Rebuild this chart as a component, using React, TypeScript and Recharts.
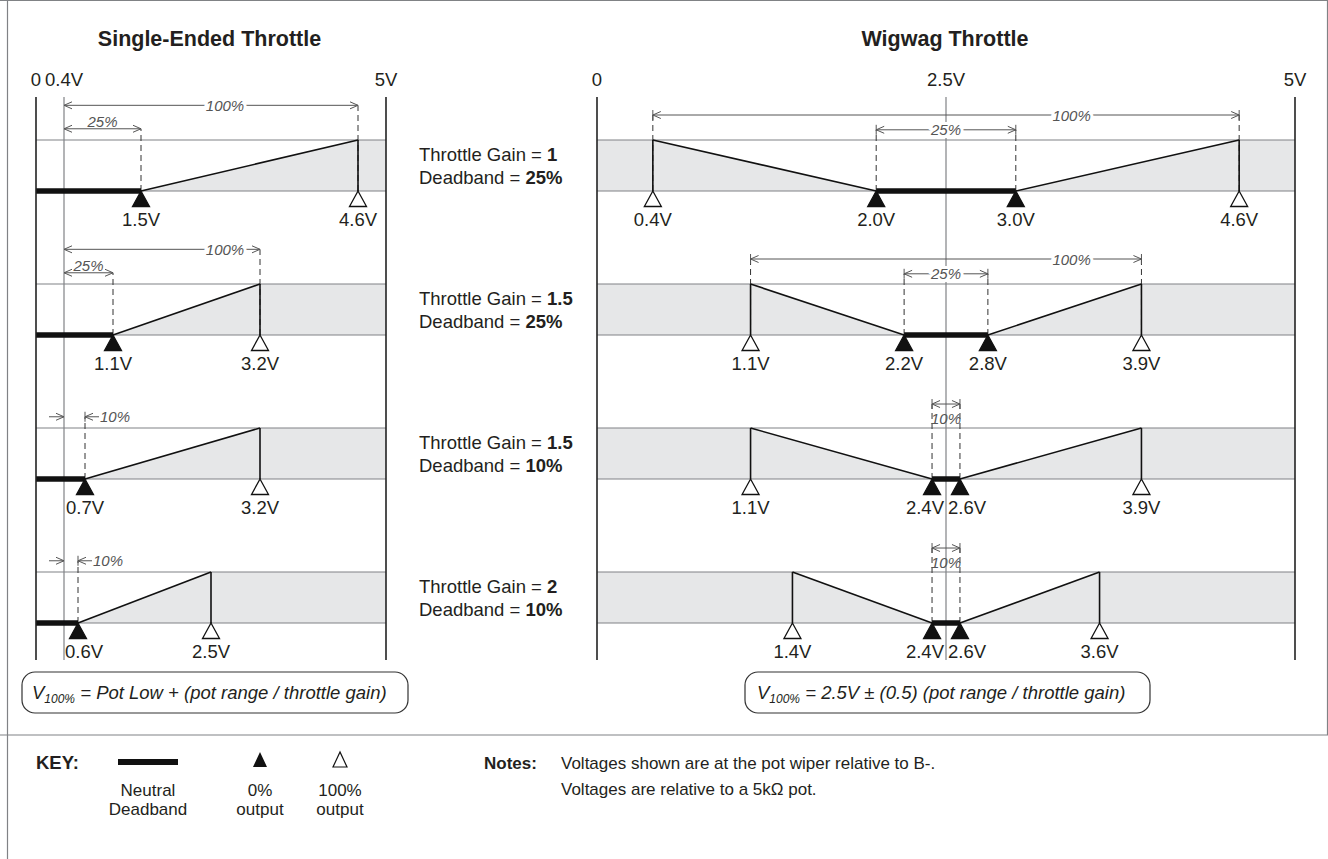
import React from 'react';
import { ComposedChart, Area, XAxis, YAxis, ReferenceLine, ReferenceDot } from 'recharts';

const FONT = '"Liberation Sans", Arial, Helvetica, sans-serif';
const TEXT = '#231f20';
const FILL = '#e6e7e8';
const EDGE = '#808285';
const DIM = '#555555';

// ---------------- data ----------------
const potLow = 0.4;
const potMid = 2.5;
const potMax = 5;
const gains = ['1', '1.5', '1.5', '2'];
const deadbands = ['25%', '25%', '10%', '10%'];
const seZero = [1.5, 1.1, 0.7, 0.6];
const seFull = [4.6, 3.2, 3.2, 2.5];
const wwFullLow = [0.4, 1.1, 1.1, 1.4];
const wwZeroLow = [2.0, 2.2, 2.4, 2.4];
const wwZeroHigh = [3.0, 2.8, 2.6, 2.6];
const wwFullHigh = [4.6, 3.9, 3.9, 3.6];
const seTicks = [0, 0.4, 5];
const wwTicks = [0, 2.5, 5];
const fullSpanRows = [true, true, false, false];
const fullSpanLabel = '100%';

// ---------------- layout ----------------
const W = 1328;
const H = 859;
const PLOT_TOP = 97;
const PLOT_BOTTOM = 660;
const BAND_PX = 51;
const ROW_PX = 144;
const FIRST_BOTTOM = 191;
const Y_MAX = (FIRST_BOTTOM - PLOT_TOP) / BAND_PX;
const Y_MIN = -(PLOT_BOTTOM - FIRST_BOTTOM) / BAND_PX;
const rowBase = (r: number) => -(r * ROW_PX) / BAND_PX;
const LEFT = { x0: 36, x1: 386 };
const RIGHT = { x0: 597, x1: 1295 };
const LEFT_TIERS = { outer: 1.68, inner: 1.22 };
const RIGHT_TIERS = { outer: 1.49, inner: 1.2 };
const LEFT_FULL_LABEL_V = 2.7;
const RIGHT_FULL_LABEL_V = 3.4;

const fmtV = (v: number) => v.toFixed(1) + 'V';
const fmtTick = (v: number) => (v === 0 ? '0' : `${v}V`);

type DimStyle = 'on' | 'above' | 'below' | 'outside';

const dimShape = (label: string, style: DimStyle, frac: number, ticks: boolean) => (p: any) => {
  const { x1, y1, x2 } = p;
  const y = y1;
  const head = (x: number, dir: number) => (
    <polyline
      points={`${x - dir * 8},${y - 3.5} ${x},${y} ${x - dir * 8},${y + 3.5}`}
      fill="none"
      stroke={DIM}
      strokeWidth={1}
    />
  );
  const txt = (x: number, ty: number, anchor: string, halo: boolean) => (
    <text
      x={x}
      y={ty}
      textAnchor={anchor as any}
      fontFamily={FONT}
      fontStyle="italic"
      fontSize={15}
      fill={DIM}
      stroke={halo ? '#fff' : 'none'}
      strokeWidth={halo ? 6 : 0}
      paintOrder="stroke"
    >
      {label}
    </text>
  );
  if (style === 'outside') {
    return (
      <g>
        <line x1={x1 - 15} y1={y} x2={x1} y2={y} stroke={DIM} strokeWidth={1} />
        {head(x1, 1)}
        <line x1={x2} y1={y - 5} x2={x2} y2={y + 5} stroke={DIM} strokeWidth={1} />
        <line x1={x2} y1={y} x2={x2 + 14} y2={y} stroke={DIM} strokeWidth={1} />
        {head(x2, -1)}
        {txt(x2 + 15, y + 5, 'start', false)}
      </g>
    );
  }
  const lx = x1 + frac * (x2 - x1);
  return (
    <g>
      <line x1={x1} y1={y} x2={x2} y2={y} stroke={DIM} strokeWidth={1} />
      {head(x1, -1)}
      {head(x2, 1)}
      {ticks && <line x1={x1} y1={y - 5} x2={x1} y2={y + 5} stroke={DIM} strokeWidth={1} />}
      {ticks && <line x1={x2} y1={y - 5} x2={x2} y2={y + 5} stroke={DIM} strokeWidth={1} />}
      {style === 'on' && txt(lx, y + 5.5, 'middle', true)}
      {style === 'above' && txt(lx, y - 2, 'middle', false)}
      {style === 'below' && txt(lx, y + 20, 'middle', false)}
    </g>
  );
};

const triShape = (filled: boolean) => (p: any) => {
  const { cx, cy } = p;
  return (
    <polygon
      points={`${cx},${cy} ${cx - 8.5},${cy + 15.5} ${cx + 8.5},${cy + 15.5}`}
      fill={filled ? '#111' : '#fff'}
      stroke="#111"
      strokeWidth={1.3}
      strokeLinejoin="miter"
    />
  );
};

const labelShape = (text: string, anchor: string, dx: number) => (p: any) => {
  const { cx, cy } = p;
  return (
    <text x={cx + dx} y={cy + 35} textAnchor={anchor as any} fontFamily={FONT} fontSize={18.5} fill={TEXT}>
      {text}
    </text>
  );
};

type Dim = { from: number; to: number; label: string; tier: number; style: DimStyle; frac: number; dashFrom: boolean; dashTo: boolean };

function buildRow(
  key: string,
  b: number,
  areaPts: { x: number; lvl: number }[],
  solids: [number, number, number, number][],
  dead: [number, number],
  zeros: number[],
  fulls: number[],
  labels: { v: number; text: string; anchor: string; dx: number }[],
  dims: Dim[],
  ticks: boolean,
) {
  const areas: any[] = [];
  const lines: any[] = [];
  const dots: any[] = [];
  areas.push(
    <Area
      key={key + 'area'}
      data={areaPts.map((p) => ({ x: p.x, y: [b, b + p.lvl] }))}
      dataKey="y"
      type="linear"
      stroke="none"
      fill={FILL}
      fillOpacity={1}
      dot={false}
      activeDot={false}
      isAnimationActive={false}
    />,
  );
  lines.push(<ReferenceLine key={key + 'eb'} y={b} stroke={EDGE} strokeWidth={1.2} />);
  lines.push(<ReferenceLine key={key + 'et'} y={b + 1} stroke={EDGE} strokeWidth={1.2} />);
  dims.forEach((d, i) => {
    if (d.dashFrom)
      lines.push(
        <ReferenceLine key={key + 'df' + i} segment={[{ x: d.from, y: b }, { x: d.from, y: b + d.tier }]} stroke="#333" strokeWidth={1} strokeDasharray="6 4" />,
      );
    if (d.dashTo)
      lines.push(
        <ReferenceLine key={key + 'dt' + i} segment={[{ x: d.to, y: b }, { x: d.to, y: b + d.tier }]} stroke="#333" strokeWidth={1} strokeDasharray="6 4" />,
      );
    lines.push(
      <ReferenceLine
        key={key + 'dim' + i}
        segment={[{ x: d.from, y: b + d.tier }, { x: d.to, y: b + d.tier }]}
        shape={dimShape(d.label, d.style, d.frac, ticks)}
      />,
    );
  });
  solids.forEach((s, i) => {
    lines.push(
      <ReferenceLine key={key + 's' + i} segment={[{ x: s[0], y: s[1] }, { x: s[2], y: s[3] }]} stroke="#111" strokeWidth={1.6} />,
    );
  });
  lines.push(
    <ReferenceLine key={key + 'dead'} segment={[{ x: dead[0], y: b }, { x: dead[1], y: b }]} stroke="#111" strokeWidth={5.5} />,
  );
  zeros.forEach((v, i) => dots.push(<ReferenceDot key={key + 'z' + i} x={v} y={b} r={9} shape={triShape(true)} />));
  fulls.forEach((v, i) => dots.push(<ReferenceDot key={key + 'f' + i} x={v} y={b} r={9} shape={triShape(false)} />));
  labels.forEach((l, i) =>
    dots.push(<ReferenceDot key={key + 'l' + i} x={l.v} y={b} r={1} shape={labelShape(l.text, l.anchor, l.dx)} />),
  );
  return { areas, lines, dots };
}

function leftRows() {
  const all = { areas: [] as any[], lines: [] as any[], dots: [] as any[] };
  seZero.forEach((z, r) => {
    const f = seFull[r];
    const b = rowBase(r);
    const dims: Dim[] = [];
    if (fullSpanRows[r]) {
      dims.push({ from: potLow, to: f, label: fullSpanLabel, tier: LEFT_TIERS.outer, style: 'on', frac: (LEFT_FULL_LABEL_V - potLow) / (f - potLow), dashFrom: false, dashTo: true });
      dims.push({ from: potLow, to: z, label: deadbands[r], tier: LEFT_TIERS.inner, style: 'above', frac: 0.5, dashFrom: false, dashTo: true });
    } else {
      dims.push({ from: potLow, to: z, label: deadbands[r], tier: LEFT_TIERS.inner, style: 'outside', frac: 0.5, dashFrom: false, dashTo: true });
    }
    const tight = z - potLow < 0.25;
    const res = buildRow(
      'L' + r,
      b,
      [
        { x: 0, lvl: 0 },
        { x: z, lvl: 0 },
        { x: f, lvl: 1 },
        { x: potMax, lvl: 1 },
      ],
      [
        [z, b, f, b + 1],
        [f, b, f, b + 1],
      ],
      [0, z],
      [z],
      [f],
      [
        tight ? { v: potLow, text: fmtV(z), anchor: 'start', dx: 1 } : { v: z, text: fmtV(z), anchor: 'middle', dx: 0 },
        { v: f, text: fmtV(f), anchor: 'middle', dx: 0 },
      ],
      dims,
      false,
    );
    all.areas.push(...res.areas);
    all.lines.push(...res.lines);
    all.dots.push(...res.dots);
  });
  return all;
}

function rightRows() {
  const all = { areas: [] as any[], lines: [] as any[], dots: [] as any[] };
  wwZeroLow.forEach((zl, r) => {
    const zh = wwZeroHigh[r];
    const fl = wwFullLow[r];
    const fh = wwFullHigh[r];
    const b = rowBase(r);
    const dims: Dim[] = [];
    if (fullSpanRows[r]) {
      dims.push({ from: fl, to: fh, label: fullSpanLabel, tier: RIGHT_TIERS.outer, style: 'on', frac: (RIGHT_FULL_LABEL_V - fl) / (fh - fl), dashFrom: true, dashTo: true });
      dims.push({ from: zl, to: zh, label: deadbands[r], tier: RIGHT_TIERS.inner, style: 'on', frac: 0.5, dashFrom: true, dashTo: true });
    } else {
      dims.push({ from: zl, to: zh, label: deadbands[r], tier: RIGHT_TIERS.outer - 0.02, style: 'below', frac: 0.5, dashFrom: true, dashTo: true });
    }
    const tight = zh - zl < 0.4;
    const res = buildRow(
      'R' + r,
      b,
      [
        { x: 0, lvl: 1 },
        { x: fl, lvl: 1 },
        { x: zl, lvl: 0 },
        { x: zh, lvl: 0 },
        { x: fh, lvl: 1 },
        { x: potMax, lvl: 1 },
      ],
      [
        [fl, b, fl, b + 1],
        [fl, b + 1, zl, b],
        [zh, b, fh, b + 1],
        [fh, b, fh, b + 1],
      ],
      [zl, zh],
      [zl, zh],
      [fl, fh],
      [
        { v: fl, text: fmtV(fl), anchor: 'middle', dx: 0 },
        tight ? { v: potMid, text: fmtV(zl), anchor: 'end', dx: -2 } : { v: zl, text: fmtV(zl), anchor: 'middle', dx: 0 },
        tight ? { v: potMid, text: fmtV(zh), anchor: 'start', dx: 2 } : { v: zh, text: fmtV(zh), anchor: 'middle', dx: 0 },
        { v: fh, text: fmtV(fh), anchor: 'middle', dx: 0 },
      ],
      dims,
      true,
    );
    all.areas.push(...res.areas);
    all.lines.push(...res.lines);
    all.dots.push(...res.dots);
  });
  return all;
}

function Panel({ frame, ticks, refLine, rows }: { frame: { x0: number; x1: number }; ticks: number[]; refLine: number; rows: any }) {
  return (
    <div style={{ position: 'absolute', left: 0, top: 0 }}>
      <ComposedChart
        width={W}
        height={H}
        margin={{ top: PLOT_TOP - 30, bottom: H - PLOT_BOTTOM, left: frame.x0, right: W - frame.x1 }}
      >
        <XAxis
          dataKey="x"
          type="number"
          orientation="top"
          domain={[0, potMax]}
          allowDataOverflow
          ticks={ticks}
          interval={0}
          tickFormatter={fmtTick}
          axisLine={false}
          tickLine={false}
          tickSize={0}
          tickMargin={11}
          height={30}
          tick={{ fontSize: 18.5, fill: TEXT, fontFamily: FONT }}
        />
        <YAxis type="number" domain={[Y_MIN, Y_MAX]} allowDataOverflow hide width={0} />
        {rows.areas}
        <ReferenceLine x={refLine} stroke={EDGE} strokeWidth={1.2} />
        {rows.lines}
        <ReferenceLine x={0} stroke="#222" strokeWidth={1.6} />
        <ReferenceLine x={potMax} stroke="#222" strokeWidth={1.6} />
        {rows.dots}
      </ComposedChart>
    </div>
  );
}

function Overlay() {
  const t = { fontFamily: FONT, fill: TEXT } as any;
  return (
    <svg width={W} height={H} style={{ position: 'absolute', left: 0, top: 0, pointerEvents: 'none' }}>
      <line x1={7.5} y1={0} x2={7.5} y2={H} stroke={EDGE} strokeWidth={1.2} />
      <line x1={0} y1={0.5} x2={W} y2={0.5} stroke={EDGE} strokeWidth={1.2} />
      <line x1={W - 0.5} y1={0} x2={W - 0.5} y2={735} stroke={EDGE} strokeWidth={1.2} />
      <line x1={0} y1={735} x2={W} y2={735} stroke={EDGE} strokeWidth={1.2} />
      <text x={209.5} y={46} textAnchor="middle" fontSize={21.5} fontWeight="bold" {...t}>
        Single-Ended Throttle
      </text>
      <text x={945} y={46} textAnchor="middle" fontSize={21.5} fontWeight="bold" {...t}>
        Wigwag Throttle
      </text>
      {gains.map((g, r) => (
        <g key={'rl' + r}>
          <text x={419} y={161 + r * ROW_PX} fontSize={18.5} {...t}>
            Throttle Gain = <tspan fontWeight="bold">{g}</tspan>
          </text>
          <text x={419} y={183.5 + r * ROW_PX} fontSize={18.5} {...t}>
            Deadband = <tspan fontWeight="bold">{deadbands[r]}</tspan>
          </text>
        </g>
      ))}
      <rect x={22} y={672} width={386} height={41} rx={13} fill="none" stroke="#333" strokeWidth={1.2} />
      <text x={32} y={699} fontSize={18.5} fontStyle="italic" {...t}>
        V<tspan fontSize={12} dy={4}>100%</tspan>
        <tspan dy={-4}> = Pot Low + (pot range / throttle gain)</tspan>
      </text>
      <rect x={745} y={672} width={405} height={41} rx={13} fill="none" stroke="#333" strokeWidth={1.2} />
      <text x={757} y={699} fontSize={18.5} fontStyle="italic" {...t}>
        V<tspan fontSize={12} dy={4}>100%</tspan>
        <tspan dy={-4}> = 2.5V ± (0.5) (pot range / throttle gain)</tspan>
      </text>
      <text x={36} y={769} fontSize={18.5} fontWeight="bold" {...t}>
        KEY:
      </text>
      <rect x={118} y={759} width={60} height={6} fill="#111" />
      <polygon points="260,752 253,767 267,767" fill="#111" />
      <polygon points="340,752 333,767 347,767" fill="#fff" stroke="#111" strokeWidth={1.2} />
      <text x={148} y={796} textAnchor="middle" fontSize={17} {...t}>Neutral</text>
      <text x={148} y={815} textAnchor="middle" fontSize={17} {...t}>Deadband</text>
      <text x={260} y={796} textAnchor="middle" fontSize={17} {...t}>0%</text>
      <text x={260} y={815} textAnchor="middle" fontSize={17} {...t}>output</text>
      <text x={340} y={796} textAnchor="middle" fontSize={17} {...t}>100%</text>
      <text x={340} y={815} textAnchor="middle" fontSize={17} {...t}>output</text>
      <text x={484} y={769} fontSize={17} fontWeight="bold" {...t}>
        Notes:
      </text>
      <text x={561} y={769} fontSize={17} {...t}>
        Voltages shown are at the pot wiper relative to B-.
      </text>
      <text x={561} y={795} fontSize={17} {...t}>
        Voltages are relative to a 5kΩ pot.
      </text>
    </svg>
  );
}

export default function App() {
  const l = leftRows();
  const r = rightRows();
  return (
    <div style={{ position: 'relative', width: W, height: H, background: '#fff', overflow: 'hidden' }}>
      <style>{'body{margin:0}'}</style>
      <Panel frame={LEFT} ticks={seTicks} refLine={potLow} rows={l} />
      <Panel frame={RIGHT} ticks={wwTicks} refLine={potMid} rows={r} />
      <Overlay />
    </div>
  );
}
